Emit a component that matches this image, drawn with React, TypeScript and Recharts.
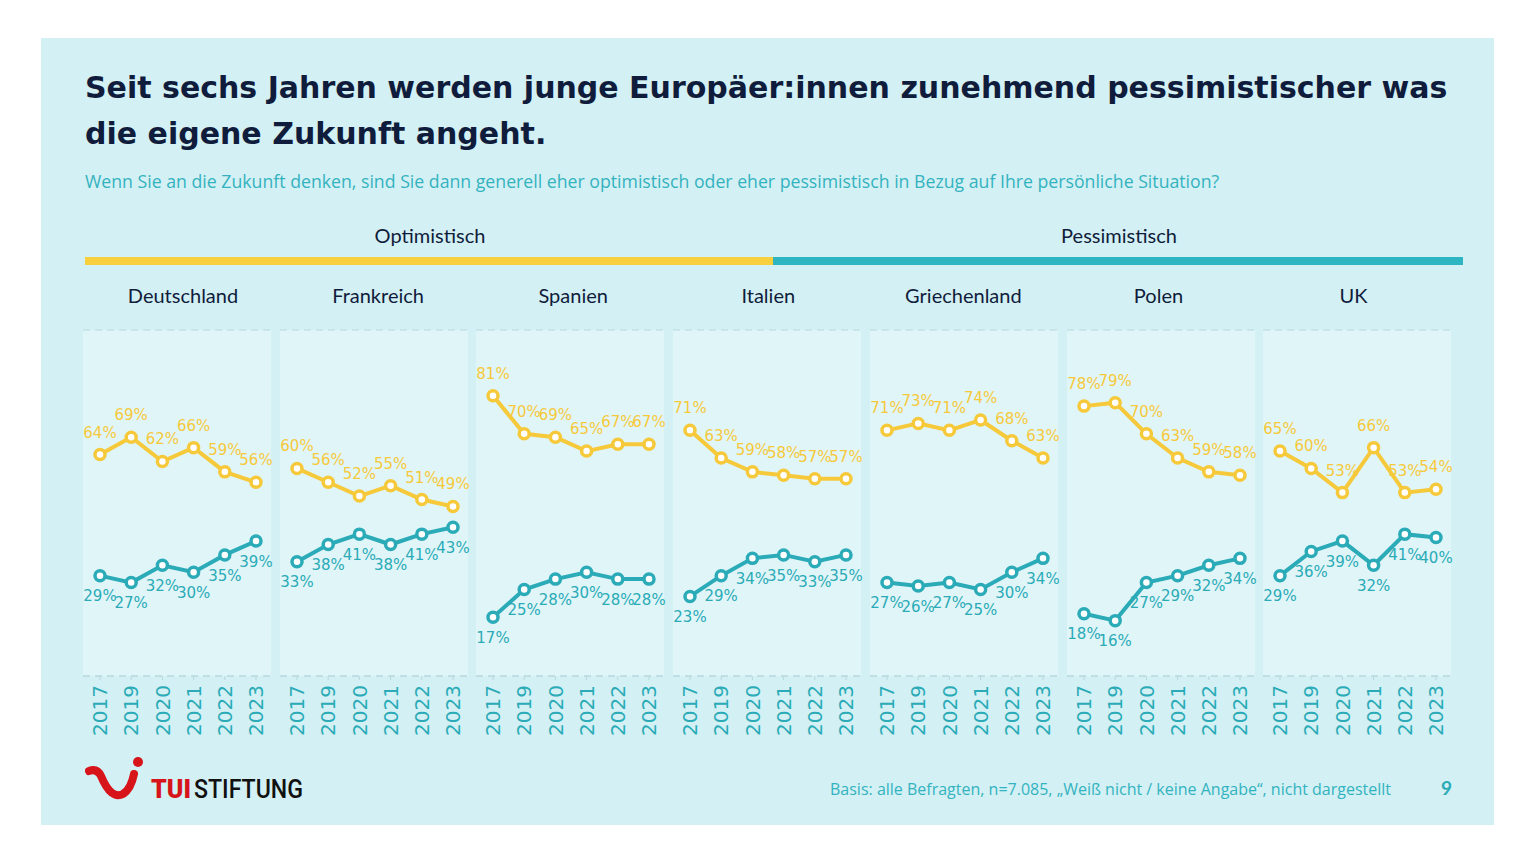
import { LineChart, Line, XAxis, YAxis, CartesianGrid, LabelList } from "recharts";

const FONT = "Lato, 'Open Sans', sans-serif";
const WIDE_FONT = "'Open Sans', Lato, sans-serif";
const LABEL_FONT = "'DejaVu Sans', sans-serif";
const YELLOW = "#f6c93b";
const TEAL = "#2aabb7";
const NAVY = "#101c3b";
const BG = "#d3f0f4";
const PANEL_BG = "#e0f5f8";

const years = ["2017", "2019", "2020", "2021", "2022", "2023"];
const yTicks = [0, 10, 20, 30, 40, 50, 60, 70, 80, 90, 100];

const optDeutschland = [64, 69, 62, 66, 59, 56];
const pessDeutschland = [29, 27, 32, 30, 35, 39];
const optFrankreich = [60, 56, 52, 55, 51, 49];
const pessFrankreich = [33, 38, 41, 38, 41, 43];
const optSpanien = [81, 70, 69, 65, 67, 67];
const pessSpanien = [17, 25, 28, 30, 28, 28];
const optItalien = [71, 63, 59, 58, 57, 57];
const pessItalien = [23, 29, 34, 35, 33, 35];
const optGriechenland = [71, 73, 71, 74, 68, 63];
const pessGriechenland = [27, 26, 27, 25, 30, 34];
const optPolen = [78, 79, 70, 63, 59, 58];
const pessPolen = [18, 16, 27, 29, 32, 34];
const optUK = [65, 60, 53, 66, 53, 54];
const pessUK = [29, 36, 39, 32, 41, 40];

const countries = ["Deutschland", "Frankreich", "Spanien", "Italien", "Griechenland", "Polen", "UK"];
const optSeries = [optDeutschland, optFrankreich, optSpanien, optItalien, optGriechenland, optPolen, optUK];
const pessSeries = [pessDeutschland, pessFrankreich, pessSpanien, pessItalien, pessGriechenland, pessPolen, pessUK];

const YearTick = ({ x, y, payload }: any) => (
  <text
    x={x}
    y={y}
    transform={`rotate(-90 ${x} ${y})`}
    textAnchor="end"
    dy="0.36em"
    fill={TEAL}
    fontSize={20}
    fontFamily={LABEL_FONT}
  >
    {payload.value}
  </text>
);

function CountryPanel({ index }: { index: number }) {
  const data = years.map((year, i) => ({
    year,
    opt: optSeries[index][i],
    pess: pessSeries[index][i],
  }));

  // extra right margin so the 2023 labels can spill past the panel like in the original
  return (
    <LineChart
      width={202}
      height={426}
      data={data}
      margin={{ top: 10, right: 14, bottom: 0, left: 0 }}
    >
      <CartesianGrid
        vertical={false}
        fill={PANEL_BG}
        stroke="#b7d8de"
        strokeDasharray="7 5"
      />
      <XAxis
        dataKey="year"
        height={70}
        padding={{ left: 17, right: 15 }}
        axisLine={{ stroke: "#b7d8de", strokeDasharray: "7 5" }}
        tickLine={{ stroke: "#b7d8de" }}
        tickSize={4}
        tickMargin={5}
        tick={<YearTick />}
        interval={0}
      />
      <YAxis width={0} domain={[0, 100]} ticks={yTicks} tick={false} axisLine={false} tickLine={false} />
      <Line
        dataKey="opt"
        stroke={YELLOW}
        strokeWidth={4}
        dot={{ r: 5, stroke: YELLOW, strokeWidth: 3.5, fill: "#ffffff" }}
        isAnimationActive={false}
      >
        <LabelList
          dataKey="opt"
          position="top"
          offset={17}
          formatter={(v: any) => `${v}%`}
          fill={YELLOW}
          fontSize={15}
          fontFamily={LABEL_FONT}
        />
      </Line>
      <Line
        dataKey="pess"
        stroke={TEAL}
        strokeWidth={4}
        dot={{ r: 5, stroke: TEAL, strokeWidth: 3.5, fill: "#ffffff" }}
        isAnimationActive={false}
      >
        <LabelList
          dataKey="pess"
          position="bottom"
          offset={15}
          formatter={(v: any) => `${v}%`}
          fill={TEAL}
          fontSize={15}
          fontFamily={LABEL_FONT}
        />
      </Line>
    </LineChart>
  );
}

export default function App() {
  return (
    <div
      style={{
        position: "absolute",
        left: 41,
        top: 38,
        width: 1453,
        height: 787,
        background: BG,
        fontFamily: FONT,
        overflow: "hidden",
      }}
    >
      <div
        style={{
          position: "absolute",
          left: 44,
          top: 27,
          fontSize: 30,
          lineHeight: "46px",
          fontWeight: 700,
          fontFamily: "'DejaVu Sans', sans-serif",
          color: NAVY,
          whiteSpace: "nowrap",
        }}
      >
        Seit sechs Jahren werden junge Europäer:innen zunehmend pessimistischer was
        <br />
        die eigene Zukunft angeht.
      </div>
      <div
        style={{
          position: "absolute",
          left: 44,
          top: 133,
          fontSize: 17.7,
          lineHeight: "20px",
          fontFamily: WIDE_FONT,
          color: "#33b3bf",
          whiteSpace: "nowrap",
        }}
      >
        Wenn Sie an die Zukunft denken, sind Sie dann generell eher optimistisch oder eher pessimistisch in Bezug auf Ihre persönliche Situation?
      </div>

      <div style={{ position: "absolute", left: 289, width: 200, top: 185, textAlign: "center", fontSize: 20, lineHeight: "24px", color: NAVY }}>
        Optimistisch
      </div>
      <div style={{ position: "absolute", left: 978, width: 200, top: 185, textAlign: "center", fontSize: 20, lineHeight: "24px", color: NAVY }}>
        Pessimistisch
      </div>
      <div style={{ position: "absolute", left: 44, top: 219, width: 688, height: 8, background: "#f8cf3c" }} />
      <div style={{ position: "absolute", left: 732, top: 219, width: 690, height: 8, background: "#2db5c2" }} />

      {countries.map((name, i) => (
        <div
          key={name}
          style={{
            position: "absolute",
            left: 142 + i * 195.1 - 100,
            width: 200,
            top: 245,
            textAlign: "center",
            fontSize: 20,
            lineHeight: "24px",
            color: NAVY,
          }}
        >
          {name}
        </div>
      ))}

      {countries.map((name, i) => (
        <div key={name} style={{ position: "absolute", left: 42 + i * 196.7, top: 282 }}>
          <CountryPanel index={i} />
        </div>
      ))}

      <svg style={{ position: "absolute", left: 44, top: 712 }} width={240} height={66}>
        <path
          d="M4 21 Q 12 18 16 26 Q 26 50 38 44 Q 46 39 49 24"
          fill="none"
          stroke="#d7141a"
          strokeWidth={8}
          strokeLinecap="round"
        />
        <circle cx={53} cy={12} r={5} fill="#d7141a" />
        <text x={66} y={48} fontFamily="Roboto, sans-serif" fontWeight={900} fontSize={26} fill="#d7141a" textLength={40} lengthAdjust="spacingAndGlyphs">
          TUI
        </text>
        <text x={109} y={48} fontFamily="Roboto, sans-serif" fontWeight={500} fontSize={26} fill="#111111" textLength={109} lengthAdjust="spacingAndGlyphs">
          STIFTUNG
        </text>
      </svg>

      <div
        style={{
          position: "absolute",
          left: 789,
          top: 742,
          fontSize: 16,
          lineHeight: "18px",
          fontFamily: WIDE_FONT,
          color: "#33b3bf",
          whiteSpace: "nowrap",
        }}
      >
        Basis: alle Befragten, n=7.085, „Weiß nicht / keine Angabe“, nicht dargestellt
      </div>
      <div
        style={{
          position: "absolute",
          left: 1400,
          top: 740,
          fontSize: 19,
          lineHeight: "20px",
          fontWeight: 700,
          color: "#2aabb7",
        }}
      >
        9
      </div>
    </div>
  );
}
